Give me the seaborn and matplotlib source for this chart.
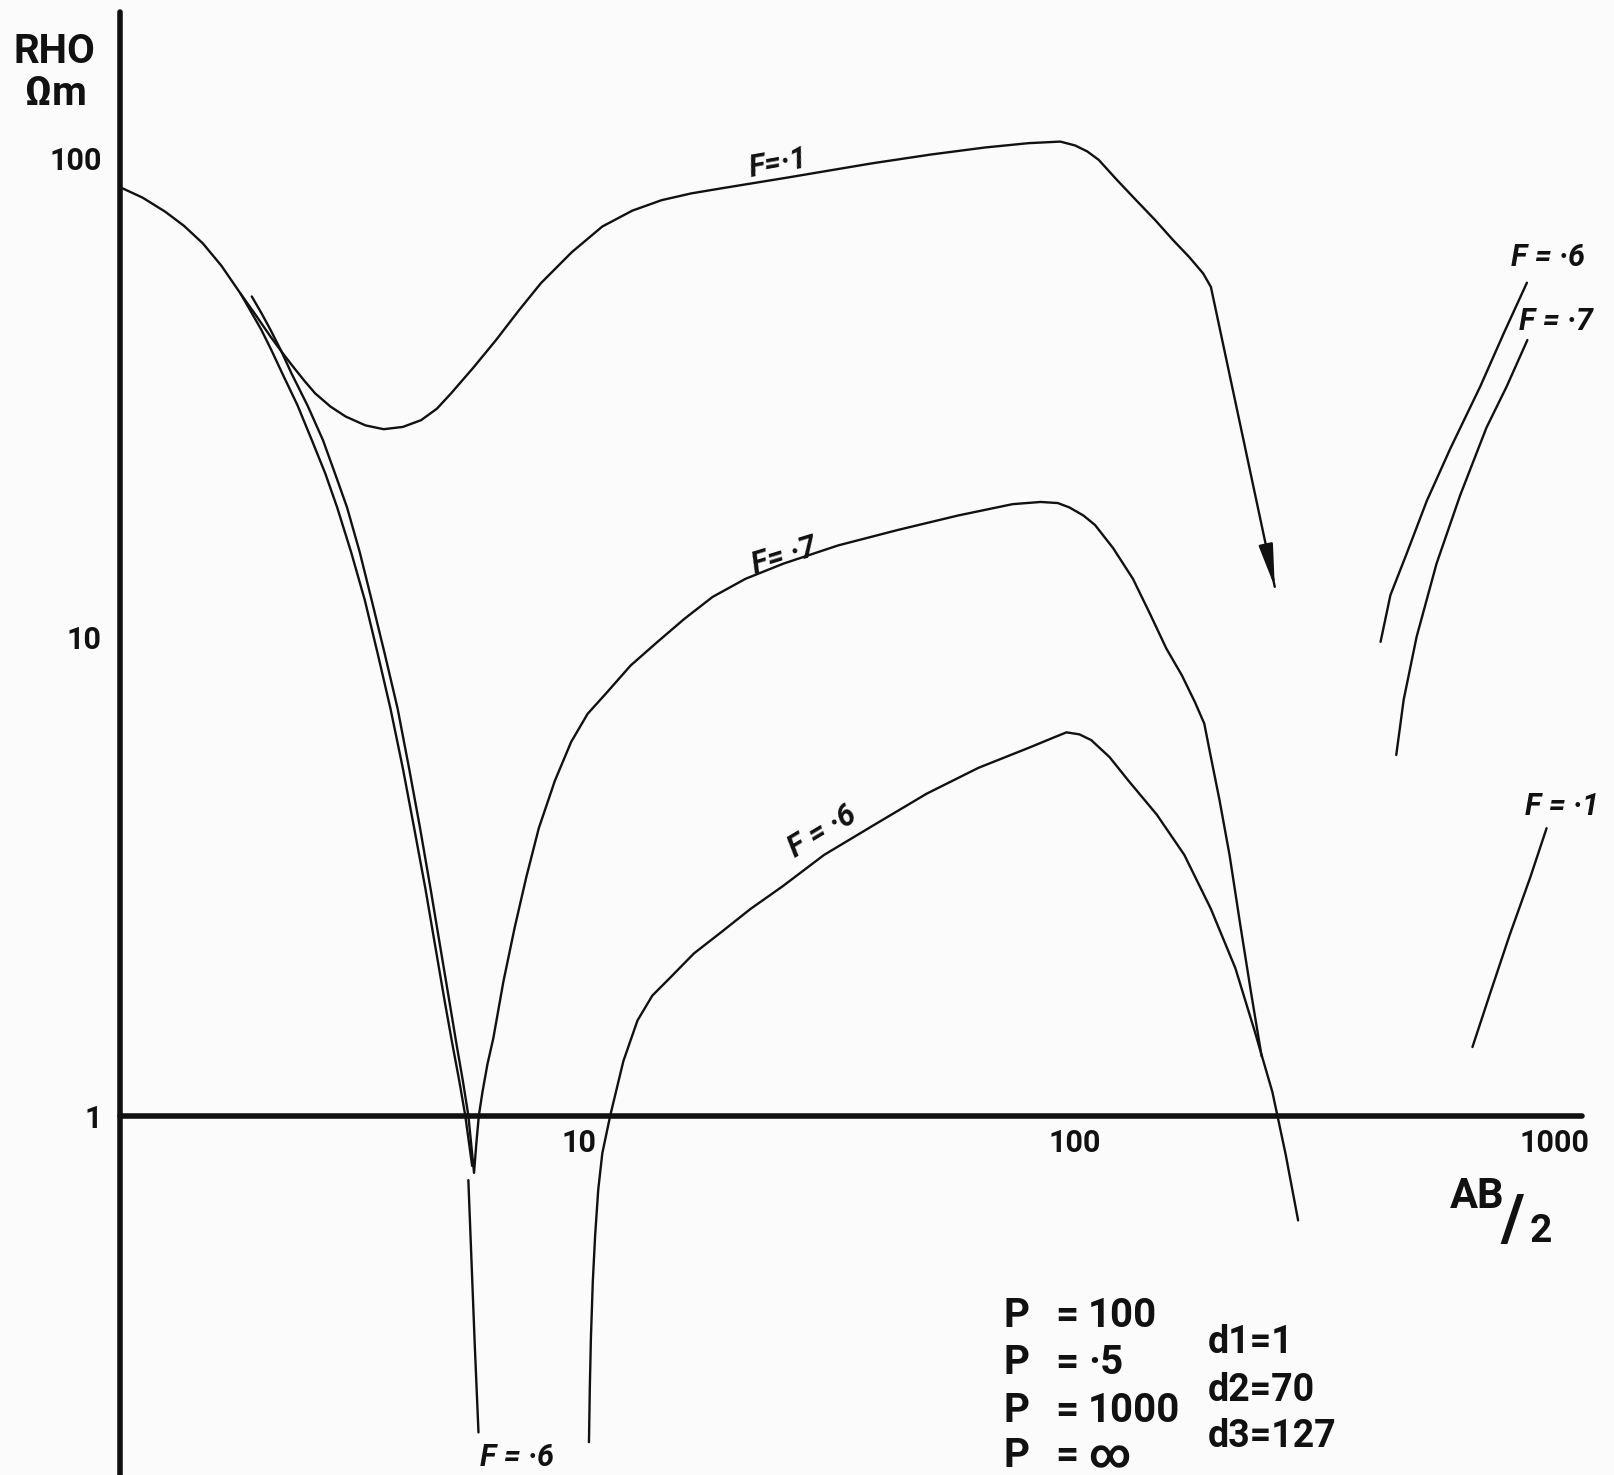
import numpy as np
import pandas as pd
import matplotlib
matplotlib.use("Agg")
import matplotlib.pyplot as plt
import seaborn as sns

# ---------------- data (AB/2 in m, apparent resistivity RHO in ohm-m) ----------------
# F = .1 curve (top), ends with an arrow pointing downwards
f1_ab2 = [1.01, 1.13, 1.26, 1.38, 1.51, 1.65, 1.81, 1.95, 2.09, 2.21, 2.33, 2.46, 2.59,
          2.79, 3.00, 3.30, 3.60, 3.95, 4.31, 4.65, 4.98, 5.55, 6.18, 6.90, 7.67, 8.90,
          10.3, 11.9, 13.7, 15.8, 18.3, 25.0, 37.7, 50.0, 64.9, 80.0, 93.1, 100, 106,
          112, 122, 134, 147, 160, 173, 185, 192, 261]
f1_rho = [86.9, 82.5, 77.1, 72.0, 66.2, 59.5, 52.0, 46.8, 42.3, 39.2, 36.6, 34.2, 32.2,
          30.2, 28.8, 27.6, 27.1, 27.4, 28.3, 29.9, 32.2, 36.5, 41.6, 48.0, 54.7, 63.5,
          71.8, 77.5, 81.5, 84.2, 86.3, 90.8, 97.3, 101.5, 105, 107.2, 108, 106, 103,
          98.9, 90.0, 81.5, 74.0, 67.3, 62.0, 57.3, 53.7, 12.7]

# F = .6 curve: descending branch (upper part), lower part, rising branch
f6_desc_ab2 = [1.81, 1.90, 2.00, 2.10, 2.21, 2.38, 2.55, 2.72, 2.88, 3.08, 3.29, 3.50,
               3.72, 3.95, 4.17, 4.40, 4.62, 4.82, 5.01, 5.18, 5.33, 5.51]
f6_desc_rho = [52.0, 47.8, 43.7, 39.6, 35.5, 30.4, 25.7, 21.9, 18.6, 15.0, 11.9, 9.20,
               7.08, 5.30, 3.98, 2.98, 2.24, 1.75, 1.41, 1.18, 1.00, 0.785]
f6_low_ab2 = [5.41, 5.50, 5.58, 5.68]
f6_low_rho = [0.733, 0.480, 0.331, 0.218]
f6_rise_ab2 = [9.66, 9.70, 9.75, 9.84, 9.95, 10.1, 10.3, 10.7, 11.4, 12.2, 13.1, 14.2,
               16.0, 18.2, 21.0, 24.5, 29.9, 38.3, 49.0, 62.8, 80.4, 90.0, 95.9, 102,
               108, 118, 129, 148, 169, 192, 216, 237, 258, 275, 292]
f6_rise_rho = [0.208, 0.270, 0.342, 0.450, 0.561, 0.700, 0.834, 1.00, 1.30, 1.58, 1.78,
               1.93, 2.18, 2.41, 2.70, 3.01, 3.50, 4.06, 4.70, 5.32, 5.87, 6.15, 6.31,
               6.25, 6.08, 5.60, 5.01, 4.25, 3.50, 2.70, 2.03, 1.50, 1.12, 0.830, 0.604]

# F = .7 curve: descending branch, V bottom and rising branch
f7_ab2 = [1.91, 2.00, 2.09, 2.20, 2.31, 2.50, 2.69, 2.85, 3.02, 3.21, 3.40, 3.62, 3.85,
          4.07, 4.29, 4.51, 4.73, 4.93, 5.11, 5.27, 5.41, 5.56,
          5.62, 5.69, 5.79, 5.93, 6.10, 6.40, 6.76, 7.15, 7.59, 8.20, 8.87, 9.60, 10.5,
          11.8, 13.4, 15.3, 17.5, 20.5, 24.6, 32.0, 42.7, 57.0, 74.0, 84.7, 92.0, 97.3,
          104, 110, 120, 132, 143, 155, 167, 178, 186, 192, 200, 210, 221, 233, 245]
f7_rho = [51.3, 47.4, 43.7, 39.5, 35.5, 30.3, 25.7, 21.9, 18.6, 15.0, 11.9, 9.20, 7.08,
          5.30, 3.98, 2.98, 2.24, 1.75, 1.41, 1.18, 1.00, 0.759,
          0.871, 1.00, 1.12, 1.28, 1.45, 1.90, 2.47, 3.15, 3.98, 5.00, 6.03, 6.90, 7.62,
          8.70, 9.73, 10.9, 12.1, 13.2, 14.2, 15.5, 16.7, 17.9, 18.9, 19.1, 19.0, 18.6,
          17.9, 17.1, 15.3, 13.2, 11.2, 9.44, 8.30, 7.28, 6.58, 5.60, 4.57, 3.50, 2.51,
          1.80, 1.33]

# short right-hand fragments
r6_ab2 = [434, 455, 492, 542, 607, 701, 784, 877]
r6_rho = [9.75, 12.2, 14.9, 19.2, 24.7, 33.3, 42.9, 54.8]
r7_ab2 = [468, 485, 516, 568, 636, 722, 796, 879]
r7_rho = [5.66, 7.38, 9.98, 14.2, 19.7, 27.3, 33.3, 41.6]
r1_ab2 = [675, 735, 807, 891, 964]
r1_rho = [1.39, 1.80, 2.38, 3.14, 3.98]

y_ticks = [1, 10, 100]
y_tick_labels = ["1", "10", "100"]
x_ticks = [10, 100, 1000]
x_tick_labels = ["10", "100", "1000"]

param_p = ["100", "·5", "1000", "∞"]
param_d = ["d1=1", "d2=70", "d3=127"]

# ---------------- figure ----------------
sns.set_theme(style="white")
plt.rcParams['font.family'] = ['Roboto', 'DejaVu Sans']
BG = "#fbfbfb"
INK = "#111111"

W, H = 1615, 1475
fig = plt.figure(figsize=(W / 100, H / 100), dpi=100)
fig.patch.set_facecolor(BG)
ax = fig.add_axes([120 / W, 0, 1462 / W, 1463 / H])
ax.set_facecolor(BG)

segments = [
    ("f1", f1_ab2, f1_rho),
    ("f6d", f6_desc_ab2, f6_desc_rho),
    ("f6l", f6_low_ab2, f6_low_rho),
    ("f6r", f6_rise_ab2, f6_rise_rho),
    ("f7", f7_ab2, f7_rho),
    ("r6", r6_ab2, r6_rho),
    ("r7", r7_ab2, r7_rho),
    ("r1", r1_ab2, r1_rho),
]
frames = []
for name, xs, ys in segments:
    frames.append(pd.DataFrame({"ab2": xs, "rho": ys, "seg": name}))
df = pd.concat(frames, ignore_index=True)

sns.lineplot(data=df, x="ab2", y="rho", units="seg", estimator=None, sort=False,
             color=INK, lw=1.7, ax=ax, legend=False)
for ln in ax.get_lines():
    ln.set_solid_joinstyle("round")
    ln.set_solid_capstyle("round")

ax.set_xscale("log")
ax.set_yscale("log")
ax.set_xlim(10 ** 0.006, 10 ** 3.058)
ax.set_ylim(10 ** -0.7505, 10 ** 2.304)

# arrow head at the end of the F=.1 curve
lx0, ly0 = np.log10(f1_ab2[-2]), np.log10(f1_rho[-2])
lx1, ly1 = np.log10(f1_ab2[-1]), np.log10(f1_rho[-1])
t = 0.88
ax.annotate("", xy=(f1_ab2[-1], f1_rho[-1]),
            xytext=(10 ** (lx0 + t * (lx1 - lx0)), 10 ** (ly0 + t * (ly1 - ly0))),
            arrowprops=dict(arrowstyle="-|>,head_length=1.3,head_width=0.22",
                            mutation_scale=20, color=INK, lw=1.7,
                            shrinkA=0, shrinkB=0))

# spines
for s in ["top", "right"]:
    ax.spines[s].set_visible(False)
ax.spines["bottom"].set_position(("data", 1))
for s in ["left", "bottom"]:
    ax.spines[s].set_linewidth(4)
    ax.spines[s].set_color(INK)
    ax.spines[s].set_capstyle("round")

ax.xaxis.set_minor_locator(matplotlib.ticker.NullLocator())
ax.yaxis.set_minor_locator(matplotlib.ticker.NullLocator())
ax.set_yticks(y_ticks)
ax.set_yticklabels(y_tick_labels)
ax.set_xticks(x_ticks)
ax.set_xticklabels(x_tick_labels)
ax.tick_params(axis="y", direction="out", length=6, width=2.5, pad=7,
               labelsize=22, colors=INK)
ax.tick_params(axis="x", direction="in", length=7, width=2.5, pad=9,
               labelsize=22, colors=INK)
for lab in ax.get_xticklabels() + ax.get_yticklabels():
    lab.set_fontweight("bold")
ax.get_xticklabels()[0].set_horizontalalignment("right")
ax.xaxis.get_major_ticks()[2].tick1line.set_visible(False)
ax.set_xlabel("")
ax.set_ylabel("")
ax.grid(False)


def P(x, y):
    return x / W, 1 - y / H


# axis titles
fig.text(*P(54, 63), "RHO", fontsize=29, fontweight="bold", ha="center",
         va="baseline", color=INK)
fig.text(*P(56, 105), "Ωm", fontsize=29, fontweight="bold", ha="center",
         va="baseline", color=INK)
fig.text(*P(1450, 1208), "AB", fontsize=30, fontweight="bold", ha="left",
         va="baseline", color=INK)
fig.text(*P(1500, 1240), "/", fontsize=46, fontweight="bold", ha="left",
         va="baseline", color=INK)
fig.text(*P(1530, 1242), "2", fontsize=28, fontweight="bold", ha="left",
         va="baseline", color=INK)

# curve labels
fl = dict(fontsize=22, fontweight="bold", style="italic", color=INK,
          ha="center", va="center", rotation_mode="anchor")
fig.text(*P(778, 164), "F=·1", rotation=10, **fl)
fig.text(*P(784, 556), "F= ·7", rotation=17, **fl)
fig.text(*P(822, 832), "F = ·6", rotation=31, **fl)
fig.text(*P(517, 1458), "F = ·6", **fl)
fig.text(*P(1548, 257), "F = ·6", **fl)
fig.text(*P(1556, 321), "F = ·7", **fl)
fig.text(*P(1562, 806), "F = ·1", **fl)

# parameter block
pk = dict(fontsize=29, fontweight="bold", color=INK, va="baseline")
for i, val in enumerate(param_p):
    yb = [1327, 1374, 1422, 1467][i]
    fig.text(*P(1004, yb), "P", ha="left", **pk)
    fig.text(*P(1055, yb), "=", ha="left", **pk)
    fig.text(*P(1088, yb), val, ha="left", **pk)
dk = dict(fontsize=27, fontweight="bold", color=INK, va="baseline")
for i, val in enumerate(param_d):
    yb = [1353, 1401, 1447][i]
    fig.text(*P(1208, yb), val, ha="left", **dk)

fig.savefig("out.png", dpi=100, facecolor=BG)
